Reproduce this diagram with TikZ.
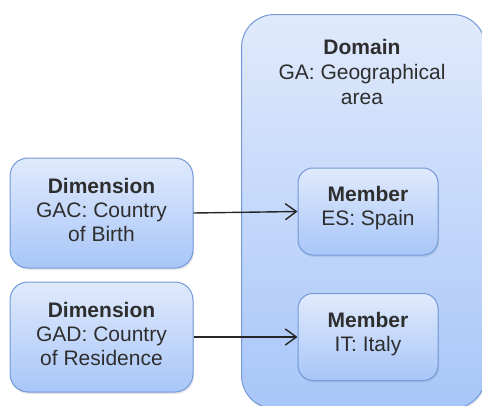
\documentclass[tikz,border=0pt]{standalone}
\usepackage{fontspec}
\setmainfont{Liberation Sans}
\usetikzlibrary{arrows.meta,shadows}
\definecolor{boxtop}{HTML}{E0EAFC}
\definecolor{boxbot}{HTML}{A8C6F8}
\definecolor{boxline}{HTML}{7399D8}
\definecolor{txt}{HTML}{2E2E2E}
\tikzset{
  boxfont/.style={text=txt, align=center, font=\fontsize{21}{23.8}\selectfont},
  conceptbox/.style={boxfont, draw=boxline, line width=1pt, top color=boxtop, bottom color=boxbot,
    inner sep=0pt, drop shadow={opacity=0.18, shadow xshift=1pt, shadow yshift=-2pt}},
  dimbox/.style={conceptbox, rounded corners=18pt, minimum width=183pt, minimum height=110pt},
  memberbox/.style={conceptbox, rounded corners=15pt, minimum width=140pt, minimum height=87pt},
  link/.style={draw=black!85, line width=1.4pt, -{Straight Barb[length=11pt,width=16pt,line width=1.4pt]}}
}
% extra depth on the last line lifts a text block inside its box
\newcommand{\liftby}[1]{\rule[-#1]{0pt}{0pt}}
\begin{document}
\begin{tikzpicture}[x=1pt,y=-1pt]
  \useasboundingbox (0,0) rectangle (482,405);
  \begin{scope}
    \clip (0,0) rectangle (482,405);
    % the domain container, running off the right and bottom edges
    \node[conceptbox, rounded corners=33pt, minimum width=244pt, minimum height=394pt,
          anchor=north west] (domain) at (241,14) {};
    \node[boxfont, font=\fontsize{21}{25}\selectfont, anchor=north]
      (domtitle) at (362,36) {\textbf{Domain}\\GA: Geographical\\area};
  \end{scope}
  % dimensions
  \node[dimbox] (gac) at (101.5,213) {\textbf{Dimension}\\GAC: Country\\of Birth\liftby{6pt}};
  \node[dimbox] (gad) at (101.5,337) {\textbf{Dimension}\\GAD: Country\\of Residence\liftby{6pt}};
  % members of the domain
  \node[memberbox] (es) at (368,211.5) {\textbf{Member}\\ES: Spain\liftby{11pt}};
  \node[memberbox] (it) at (368,337) {\textbf{Member}\\IT: Italy\liftby{11pt}};
  % references from dimensions to members
  \draw[link] (gac.east) -- (es.west);
  \draw[link] (gad.east) -- (it.west);
\end{tikzpicture}
\end{document}
